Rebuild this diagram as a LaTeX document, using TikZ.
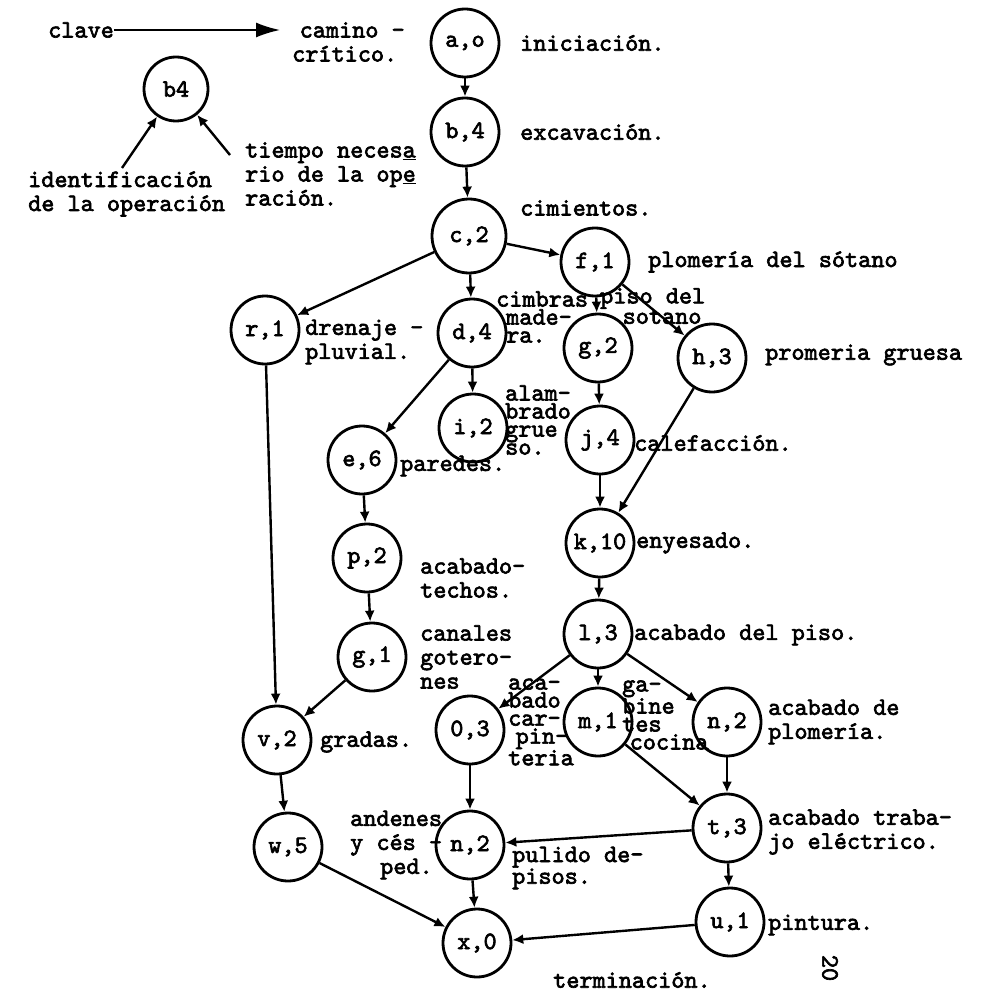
\documentclass[tikz,border=0pt]{standalone}
\usepackage{fontspec}
\setmonofont{lmmono10-regular.otf}[FakeBold=2.6]
\usetikzlibrary{arrows.meta}

\begin{document}
\begin{tikzpicture}[x=1pt,y=-1pt,
  font=\ttfamily\fontsize{25}{24}\selectfont,
  op/.style={circle,draw,line width=2.8pt,minimum size=68pt,inner sep=0pt},
  lbl/.style={align=left,inner sep=0pt,anchor=west},
  packed/.style={lbl,font=\ttfamily\fontsize{25}{18}\selectfont},
  arr/.style={line width=2.4pt,-{Latex[length=11pt,width=10pt]}},
  keyarr/.style={line width=1.8pt,-{Latex[length=24pt,width=15pt]}}
]
\useasboundingbox (0,0) rectangle (986,995);

% ---- legend ----
\node[lbl] (clave) at (48,30) {clave};
\node[lbl] (camino) at (292,42) {\hspace*{0.3em}camino -\\crítico.};
\draw[keyarr] (clave.east) -- ([xshift=-12pt]camino.west |- clave.east);
\node[op,minimum size=64pt] (key) at (176,89) {b4};
\coordinate (idtail) at (122,168);
\coordinate (timetail) at (230,155);
\draw[arr] (idtail) -- (key);
\draw[arr] (timetail) -- (key);
\node[lbl] (idtxt) at (28,194) {identificación\\de la operación};
\node[lbl] (timetxt) at (245,174) {tiempo neces\underline{a}\\rio de la op\underline{e}\\ración.};

% ---- operations ----
\node[op] (ao) at (465,43) {a,o};
\node[op] (b4) at (465,132) {b,4};
\node[op,minimum size=74pt] (c2) at (469,236) {c,2};
\node[op] (f1) at (595,262) {f,1};
\node[op] (r1) at (265,330) {r,1};
\node[op] (d4) at (472,333) {d,4};
\node[op] (g2) at (598,348) {g,2};
\node[op] (h3) at (712,358) {h,3};
\node[op] (i2) at (473,428) {i,2};
\node[op] (j4) at (600,440) {j,4};
\node[op] (e6) at (362,460) {e,6};
\node[op] (k10) at (600,543) {k,10};
\node[op] (p2) at (367,558) {p,2};
\node[op] (l3) at (598,634) {l,3};
\node[op] (g1) at (372,657) {g,1};
\node[op] (v2) at (277,740) {v,2};
\node[op] (o3) at (470,730) {0,3};
\node[op] (m1) at (598,722) {m,1};
\node[op] (n2a) at (727,722) {n,2};
\node[op] (t3) at (727,828) {t,3};
\node[op] (n2b) at (470,845) {n,2};
\node[op] (w5) at (288,847) {w,5};
\node[op] (u1) at (730,922) {u,1};
\node[op] (x0) at (477,943) {x,0};

% ---- descriptions ----
\node[lbl] at (520,43) {iniciación.};
\node[lbl] at (520,132) {excavación.};
\node[lbl] at (520,208) {cimientos.};
\node[lbl] at (648,262) {plomería del sótano};
\node[lbl] at (305,342) {drenaje -\\pluvial.};
\node[packed] at (496,317) {cimbras\\\hspace*{0.4em}made-\\\hspace*{0.4em}ra.};
\node[packed] at (600,306) {piso del\\\hspace*{0.9em}sotano};
\node[lbl] at (765,355) {promeria gruesa};
\node[packed] at (505,420) {alam-\\brado\\grue\\so.};
\node[lbl] at (634,443) {calefacción.};
\node[lbl] at (400,466) {paredes.};
\node[lbl] at (636,543) {enyesado.};
\node[lbl] at (420,578) {acabado-\\techos.};
\node[lbl] at (634,635) {acabado del piso.};
\node[lbl] at (420,657) {canales\\gotero-\\nes};
\node[lbl] at (320,742) {gradas.};
\node[packed] at (508,722) {aca-\\bado\\car-\\\hspace*{0.3em}pin-\\teria};
\node[packed] at (622,715) {ga-\\bine\\tes\\\hspace*{0.3em}cocina};
\node[lbl] at (768,722) {acabado de\\plomería.};
\node[lbl] at (768,832) {acabado traba-\\jo eléctrico.};
\node[lbl] at (350,845) {andenes\\y cés -\\\hspace*{1.2em}ped.};
\node[packed] at (512,868) {pulido de-\\pisos.};
\node[lbl] at (768,925) {pintura.};
\node[lbl] at (553,980) {terminación.};
\node[rotate=-90,inner sep=0pt] (pageno) at (830,968) {20};

% ---- precedence arrows ----
\draw[arr] (ao) -- (b4);
\draw[arr] (b4) -- (c2);
\draw[arr] (c2) -- (f1);
\draw[arr] (c2) -- (r1);
\draw[arr] (c2) -- (d4);
\draw[arr] (f1) -- (g2);
\draw[arr] (f1) -- (h3);
\draw[arr] (d4) -- (i2);
\draw[arr] (d4) -- (e6);
\draw[arr] (g2) -- (j4);
\draw[arr] (j4) -- (k10);
\draw[arr] (h3) -- (k10);
\draw[arr] (e6) -- (p2);
\draw[arr] (p2) -- (g1);
\draw[arr] (k10) -- (l3);
\draw[arr] (l3) -- (o3);
\draw[arr] (l3) -- (m1);
\draw[arr] (l3) -- (n2a);
\draw[arr] (g1) -- (v2);
\draw[arr] (r1) -- (v2);
\draw[arr] (v2) -- (w5);
\draw[arr] (o3) -- (n2b);
\draw[arr] (m1) -- (t3);
\draw[arr] (n2a) -- (t3);
\draw[arr] (t3) -- (n2b);
\draw[arr] (t3) -- (u1);
\draw[arr] (n2b) -- (x0);
\draw[arr] (w5) -- (x0);
\draw[arr] (u1) -- (x0);
\end{tikzpicture}
\end{document}
